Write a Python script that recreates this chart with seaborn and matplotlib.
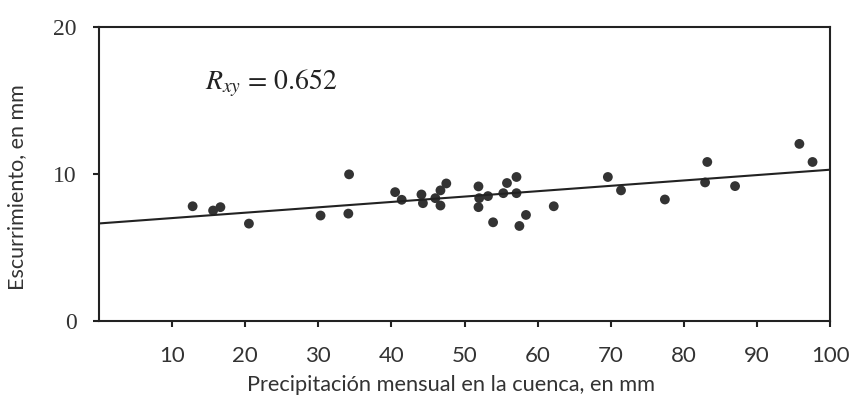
import matplotlib
matplotlib.use("Agg")
import matplotlib.pyplot as plt
import seaborn as sns
import pandas as pd

# Data
precip = [12.8, 15.6, 16.6, 20.5, 30.3, 34.1, 34.2,
          40.5, 41.4, 44.1, 44.3, 46.0, 46.7, 46.7, 47.5,
          51.9, 52.0, 51.9, 53.2, 53.9, 55.3, 55.8, 57.1, 57.1,
          58.4, 57.5, 62.2, 69.6, 71.4, 77.4, 83.2, 82.9, 87.0,
          95.8, 97.6]
escurr = [7.81, 7.52, 7.75, 6.63, 7.18, 7.31, 9.98,
          8.77, 8.25, 8.61, 8.02, 8.36, 8.89, 7.86, 9.36,
          9.16, 8.36, 7.75, 8.50, 6.72, 8.70, 9.39, 9.80, 8.70,
          7.22, 6.47, 7.81, 9.80, 8.89, 8.27, 10.82, 9.43, 9.18,
          12.05, 10.82]
x_ticks = [10, 20, 30, 40, 50, 60, 70, 80, 90, 100]
y_ticks = [0, 10, 20]
annot = r"$R_{xy}$ = 0.652"

df = pd.DataFrame({"precip": precip, "escurr": escurr})

sns.set_style("ticks")
plt.rcParams["mathtext.fontset"] = "stix"

fig = plt.figure(figsize=(8.54, 3.96), dpi=100)
ax = fig.add_axes([0.116, 0.189, 0.856, 0.743])
ax.set_xlim(0, 100)
ax.set_ylim(0, 20)
ax.set_autoscale_on(False)

sns.regplot(data=df, x="precip", y="escurr", ax=ax, ci=None, truncate=False,
            scatter_kws=dict(s=50, color="#333333", edgecolor="none", alpha=1),
            line_kws=dict(color="#222222", lw=1.5))

ax.set_xlim(0, 100)
ax.set_ylim(0, 20)
ax.set_xticks(x_ticks)
ax.set_yticks(y_ticks)

for side in ["left", "right", "top", "bottom"]:
    ax.spines[side].set_visible(True)
    ax.spines[side].set_linewidth(1.5)
    ax.spines[side].set_color("#222222")

ax.tick_params(axis="both", direction="out", length=4, width=1.5, color="#222222")
ax.tick_params(axis="x", pad=14)
ax.tick_params(axis="y", pad=12)

for lab in ax.get_xticklabels():
    lab.set_fontfamily("Lato")
    lab.set_fontsize(16)
    lab.set_color("#333333")
for lab in ax.get_yticklabels():
    lab.set_fontfamily("Liberation Serif")
    lab.set_fontsize(17)
    lab.set_color("#333333")

ax.set_xlabel("Precipitación mensual en la cuenca, en mm", fontfamily="Lato",
              fontsize=15.7, color="#333333", va="baseline")
ax.set_ylabel("Escurrimiento, en mm", fontfamily="Lato",
              fontsize=15.5, color="#333333", va="baseline")
ax.xaxis.set_label_coords(0.4815, -0.238)
ax.yaxis.set_label_coords(-0.104, 0.456)

ax.text(14.5, 16.2, annot, fontsize=20, color="#222222",
        fontfamily="STIXGeneral", va="center", ha="left")

fig.savefig("out.png", dpi=100, facecolor="white")
